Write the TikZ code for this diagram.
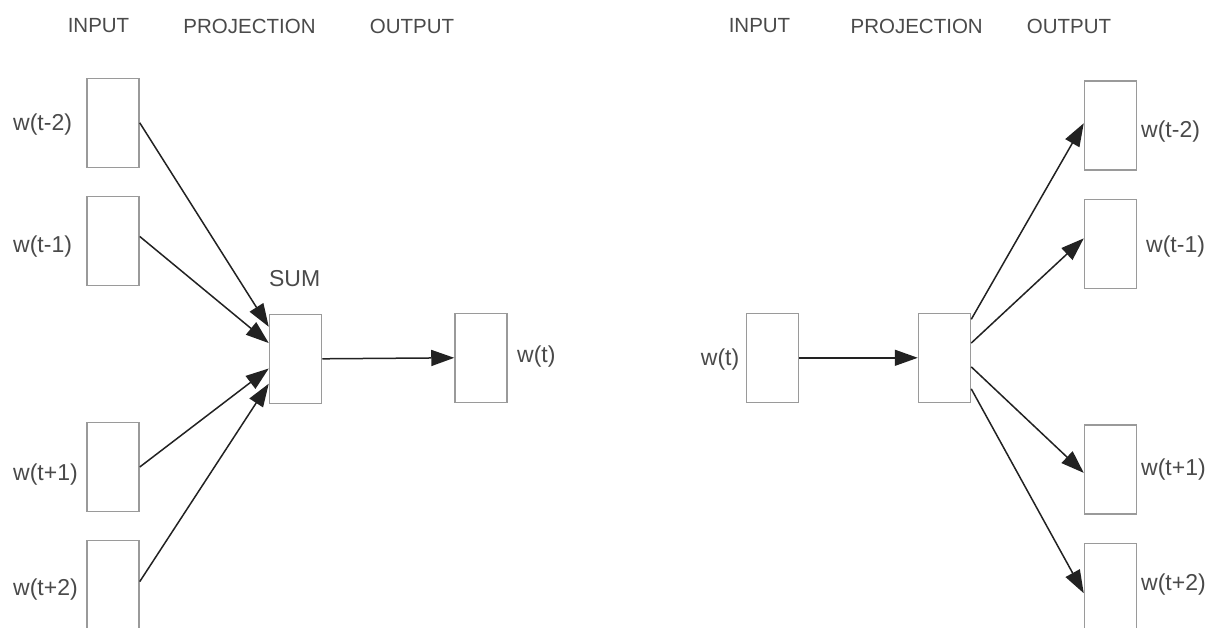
\documentclass[tikz,border=0pt]{standalone}
\usepackage{fontspec}
\setmainfont{Liberation Sans}
\usetikzlibrary{arrows.meta,calc}
\definecolor{txtgray}{HTML}{4A4A4A}
\definecolor{boxgray}{HTML}{9A9A9A}
\definecolor{linegray}{HTML}{222222}
\begin{document}
\begin{tikzpicture}[x=1pt,y=-1pt,
  unit/.style={draw=boxgray,line width=1.5pt,minimum width=52pt,minimum height=89pt,inner sep=0pt},
  head/.style={text=txtgray,font=\fontsize{20.5}{24}\selectfont,inner sep=0pt},
  lbl/.style={text=txtgray,font=\fontsize{23}{27}\selectfont,inner sep=0pt},
  link/.style={draw=linegray,line width=1.5pt,-{Triangle[length=23pt,width=16pt]}}]
\useasboundingbox[fill=white] (0,0) rectangle (1212,627);

% ---- CBOW: context words summed into the projection ----
\node[head] (hin1)   at (98.5,26)  {INPUT};
\node[head] (hproj1) at (249.5,26) {PROJECTION};
\node[head] (hout1)  at (412,26)   {OUTPUT};

\node[unit] (lin2) at (113,122.8) {};
\node[unit] (lin1) at (113,241)   {};
\node[unit] (lip1) at (113,467)   {};
\node[unit] (lip2) at (113,585.2) {};
\node[unit] (lsum) at (295.5,358.8) {};
\node[unit] (lout) at (481,357.8) {};

\node[lbl,anchor=west] (tlin2) at (13,125)   {w(t-2)};
\node[lbl,anchor=west] (tlin1) at (13,246.7) {w(t-1)};
\node[lbl,anchor=west] (tlip1) at (13,475)   {w(t+1)};
\node[lbl,anchor=west] (tlip2) at (13,590)   {w(t+2)};
\node[lbl] (tsum) at (294.7,279) {SUM};
\node[lbl,anchor=west] (tlout) at (517,356.7) {w(t)};

\draw[link] (lin2.east) -- ($(lsum.north west)!0.146!(lsum.south west)$);
\draw[link] ($(lin1.north east)!0.45!(lin1.south east)$) -- ($(lsum.north west)!0.326!(lsum.south west)$);
\draw[link] (lip1.east) -- ($(lsum.north west)!0.607!(lsum.south west)$);
\draw[link] ($(lip2.north east)!0.46!(lip2.south east)$) -- ($(lsum.north west)!0.775!(lsum.south west)$);
\draw[link] (lsum.east) -- (lout.west);

% ---- Skip-gram: one word predicts its context ----
\node[head] (hin2)   at (759.5,26) {INPUT};
\node[head] (hproj2) at (916.7,26) {PROJECTION};
\node[head] (hout2)  at (1069,26)  {OUTPUT};

\node[unit] (rin)   at (772.5,357.8) {};
\node[unit] (rproj) at (944.5,357.8) {};
\node[unit] (rom2)  at (1110.5,125.5) {};
\node[unit] (rom1)  at (1110.5,243.8) {};
\node[unit] (rop1)  at (1110.5,469.7) {};
\node[unit] (rop2)  at (1110.5,587.8) {};

\node[lbl,anchor=west] (trin)  at (700.7,360)  {w(t)};
\node[lbl,anchor=west] (trom2) at (1141,131.7) {w(t-2)};
\node[lbl,anchor=west] (trom1) at (1146,246.7) {w(t-1)};
\node[lbl,anchor=west] (trop1) at (1141,470)   {w(t+1)};
\node[lbl,anchor=west] (trop2) at (1141,585)   {w(t+2)};

\draw[link] (rin.east) -- (rproj.west);
\draw[link] ($(rproj.north east)!0.075!(rproj.south east)$) -- ($(rom2.north west)!0.475!(rom2.south west)$);
\draw[link] ($(rproj.north east)!0.337!(rproj.south east)$) -- ($(rom1.north west)!0.44!(rom1.south west)$);
\draw[link] ($(rproj.north east)!0.6!(rproj.south east)$) -- ($(rop1.north west)!0.535!(rop1.south west)$);
\draw[link] ($(rproj.north east)!0.843!(rproj.south east)$) -- ($(rop2.north west)!0.56!(rop2.south west)$);
\end{tikzpicture}
\end{document}
